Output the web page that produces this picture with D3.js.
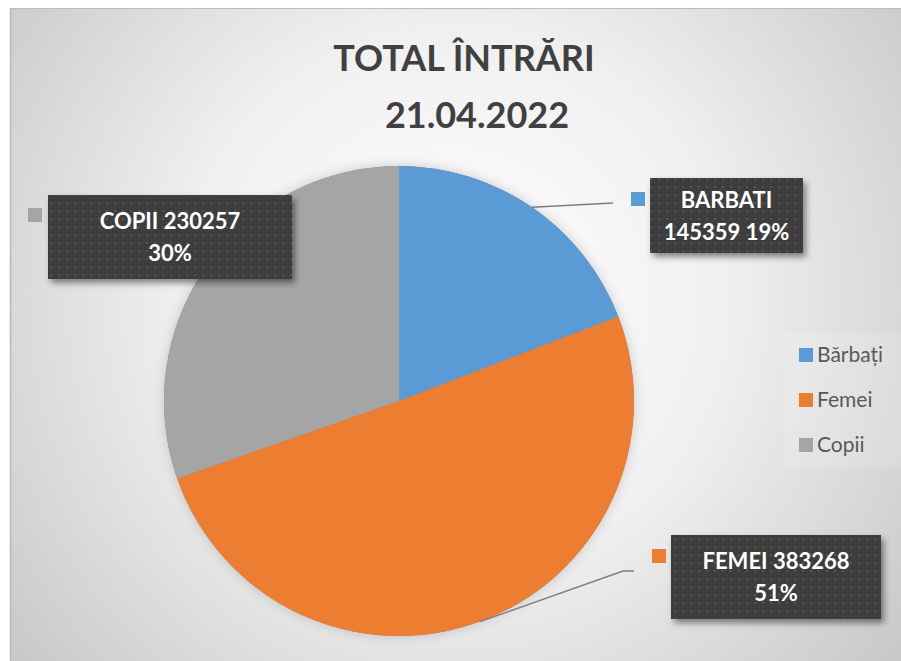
<!DOCTYPE html>
<html>
<head>
<meta charset="utf-8">
<script src="https://cdn.jsdelivr.net/npm/d3@7"></script>
<style>
html,body{margin:0;padding:0;background:#fff;}
svg{display:block;}
</style>
</head>
<body>
<svg id="chart" width="901" height="661"></svg>
<script>
const categories = ["Bărbați", "Femei", "Copii"];
const labelNames = ["BARBATI", "FEMEI", "COPII"];
const values = [145359, 383268, 230257];
const colors = ["#5B9BD5", "#ED7D31", "#A5A5A5"];
const titleLines = ["TOTAL ÎNTRĂRI", "21.04.2022"];

const svg = d3.select("#chart");
const defs = svg.append("defs");

const bg = defs.append("radialGradient").attr("id","bg")
  .attr("gradientUnits","userSpaceOnUse").attr("cx",455).attr("cy",300).attr("r",600);
bg.append("stop").attr("offset","0").attr("stop-color","#ffffff");
bg.append("stop").attr("offset","0.45").attr("stop-color","#f0f0f0");
bg.append("stop").attr("offset","1").attr("stop-color","#c4c4c4");

const pat = defs.append("pattern").attr("id","dots").attr("patternUnits","userSpaceOnUse")
  .attr("width",8).attr("height",8);
pat.append("rect").attr("width",8).attr("height",8).attr("fill","#3d3d3d");
pat.append("rect").attr("x",2).attr("y",2).attr("width",2).attr("height",2).attr("fill","#555555");
pat.append("rect").attr("x",6).attr("y",6).attr("width",1).attr("height",1).attr("fill","#484848");

const sh = defs.append("filter").attr("id","shadow").attr("x","-10%").attr("y","-10%").attr("width","130%").attr("height","140%");
sh.append("feDropShadow").attr("dx",3).attr("dy",4).attr("stdDeviation",3).attr("flood-color","#000").attr("flood-opacity",0.45);

const glow = defs.append("filter").attr("id","glow").attr("x","-20%").attr("y","-20%").attr("width","140%").attr("height","140%");
glow.append("feDropShadow").attr("dx",0).attr("dy",0).attr("stdDeviation",6).attr("flood-color","#000").attr("flood-opacity",0.18);

// frame
svg.append("rect").attr("x",10).attr("y",8).attr("width",900).attr("height",670).attr("fill","url(#bg)");
svg.append("line").attr("x1",10.5).attr("x2",10.5).attr("y1",8).attr("y2",661).attr("stroke","#b9b9b9").attr("stroke-width",1.5);
svg.append("line").attr("x1",10).attr("x2",901).attr("y1",8.5).attr("y2",8.5).attr("stroke","#bdbdbd").attr("stroke-width",1);

// title
const title = svg.append("text").attr("font-family","Lato, 'Open Sans', sans-serif").attr("font-weight","bold")
  .attr("font-size",36).attr("fill","#404040").attr("text-anchor","middle");
title.append("tspan").attr("x",464).attr("y",71).text(titleLines[0]);
title.append("tspan").attr("x",477).attr("y",128).text(titleLines[1]);

// pie
const cx = 399, cy = 401, R = 235;
const total = d3.sum(values);
const data = categories.map((c,i)=>({cat:c, name:labelNames[i], value:values[i], color:colors[i]}));
const pie = d3.pie().sort(null).value(d=>d.value);
const arcs = pie(data);
const arc = d3.arc().innerRadius(0).outerRadius(R);
const g = svg.append("g").attr("transform",`translate(${cx},${cy})`);
g.append("circle").attr("r",R).attr("fill","#888").attr("filter","url(#glow)");
g.selectAll("path.slice").data(arcs).join("path").attr("class","slice")
  .attr("d",arc).attr("fill",d=>d.data.color);

const pct = v => Math.round(v/total*100) + "%";
const mid = d => (d.startAngle + d.endAngle)/2;
const onRim = d => [cx + R*Math.sin(mid(d)), cy - R*Math.cos(mid(d))];

// leader lines
const p0 = onRim(arcs[0]);
svg.append("polyline").attr("points",[p0,[613,203]].map(p=>p.join(",")).join(" "))
  .attr("fill","none").attr("stroke","#7f7f7f").attr("stroke-width",1.5);
const p1 = onRim(arcs[1]);
svg.append("polyline").attr("points",[p1,[623,571],[634,571]].map(p=>p.join(",")).join(" "))
  .attr("fill","none").attr("stroke","#7f7f7f").attr("stroke-width",1.5);

// data label boxes
const boxes = [
  {i:0, x:650, y:178, w:153, h:75, lines:[labelNames[0], values[0] + " " + pct(values[0])], mx:631, my:192},
  {i:1, x:671, y:535, w:210, h:84, lines:[labelNames[1] + " " + values[1], pct(values[1])], mx:652, my:549},
  {i:2, x:48, y:195, w:244, h:84, lines:[labelNames[2] + " " + values[2], pct(values[2])], mx:28, my:208}
];
boxes.forEach(b=>{
  svg.append("rect").attr("x",b.x).attr("y",b.y).attr("width",b.w).attr("height",b.h)
    .attr("fill","url(#dots)").attr("filter","url(#shadow)");
  svg.append("rect").attr("x",b.mx).attr("y",b.my).attr("width",14).attr("height",14).attr("fill",colors[b.i]);
  const t = svg.append("text").attr("font-family","Lato, 'Open Sans', sans-serif").attr("font-weight","bold")
    .attr("font-size",22).attr("fill","#ffffff").attr("text-anchor","middle");
  const lh = 32;
  const y0 = b.y + b.h/2 - lh/2 + 8;
  b.lines.forEach((l,k)=>t.append("tspan").attr("x",b.x+b.w/2).attr("y",y0+k*lh).text(l));
});

// legend
svg.append("rect").attr("x",785).attr("y",333).attr("width",116).attr("height",135).attr("fill","#ffffff").attr("opacity",0.15);
const leg = svg.append("g").attr("transform","translate(799,0)");
categories.forEach((c,i)=>{
  const y = 355 + i*45;
  leg.append("rect").attr("x",0).attr("y",y-7).attr("width",14).attr("height",14).attr("fill",colors[i]);
  leg.append("text").attr("x",18).attr("y",y+7).attr("font-family","Lato, 'Open Sans', sans-serif")
    .attr("font-size",21).attr("fill","#595959").text(c);
});
</script>
</body>
</html>
